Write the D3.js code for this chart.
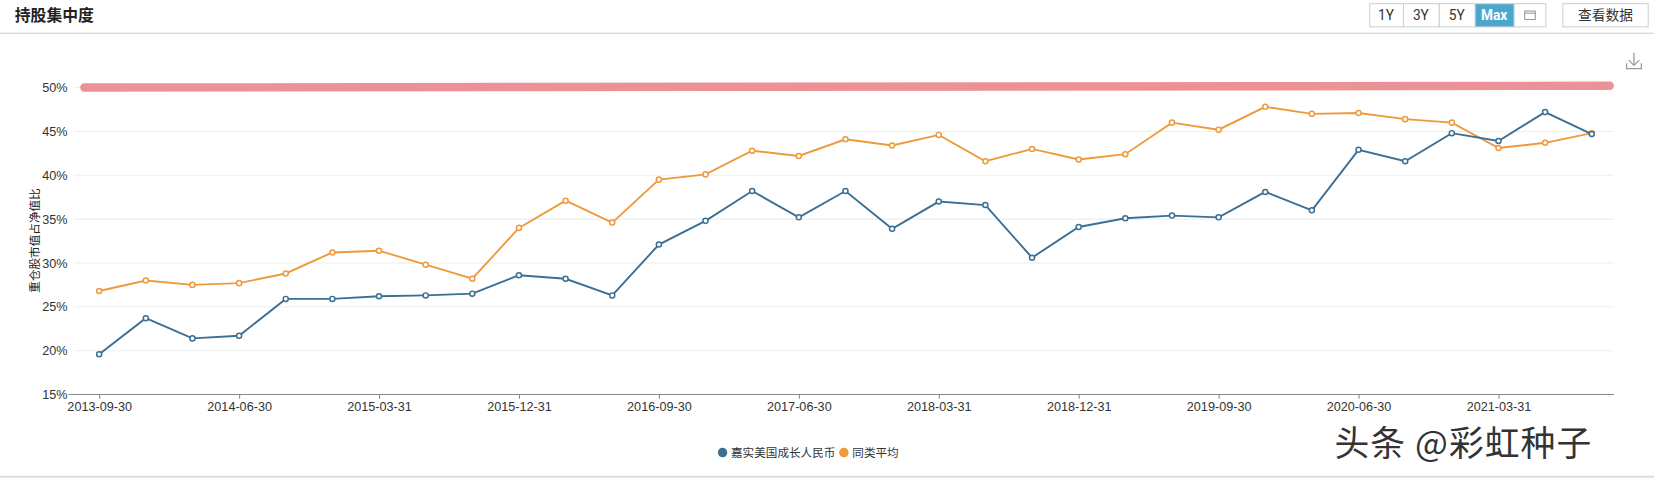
<!DOCTYPE html>
<html><head><meta charset="utf-8">
<script src="https://cdn.jsdelivr.net/npm/d3@7"></script>
<style>
body{margin:0;background:#fff;font-family:"Noto Sans CJK SC","Noto Sans",sans-serif;}
</style></head>
<body><div id="chart"></div>
<script>
// quarterly report dates
var dates = [];
(function(){ var q=["03-31","06-30","09-30","12-31"]; var y=2013,i=2;
  while(dates.length<33){ dates.push(y+"-"+q[i]); i++; if(i==4){i=0;y++;} } })();

var fundName = "嘉实美国成长人民币";
var fundValues = [19.6,23.7,21.4,21.7,25.9,25.9,26.2,26.3,26.5,28.6,28.2,26.3,32.1,34.8,38.2,35.2,38.2,33.9,37.0,36.6,30.6,34.1,35.1,35.4,35.2,38.1,36.0,42.9,41.6,44.8,43.9,47.2,44.7];
var avgName = "同类平均";
var avgValues = [26.8,28.0,27.5,27.7,28.8,31.2,31.4,29.8,28.2,34.0,37.1,34.6,39.5,40.1,42.8,42.2,44.1,43.4,44.6,41.6,43.0,41.8,42.4,46.0,45.2,47.8,47.0,47.1,46.4,46.0,43.1,43.7,44.8];
var yTicks = [15,20,25,30,35,40,45,50];
var xTickLabels = dates.filter(function(d,i){return i%3==0;});

var W=1654,H=479,S=W/1568;
var root=d3.select("#chart").append("svg").attr("width",W).attr("height",H);
var svg=root.append("g").attr("transform","scale("+S+")");

// header
svg.append("text").attr("x",14).attr("y",20).attr("font-size",15).attr("font-weight","bold").attr("fill","#222").text("持股集中度");
svg.append("line").attr("x1",0).attr("x2",W).attr("y1",31.5).attr("y2",31.5).attr("stroke","#ccc");
svg.append("line").attr("x1",0).attr("x2",W).attr("y1",452).attr("y2",452).attr("stroke","#ddd").attr("stroke-width",2);

var btns=[["1Y",1298,32],["3Y",1330,34],["5Y",1364,34],["Max",1398,37],["",1435,30]];
btns.forEach(function(b){
  var active=b[0]=="Max";
  svg.append("rect").attr("x",b[1]+0.5).attr("y",3.5).attr("width",b[2]).attr("height",22)
    .attr("fill",active?"#4aa8cf":"#fff").attr("stroke","#d0d0d0");
  svg.append("text").attr("x",b[1]+b[2]/2).attr("y",19).attr("text-anchor","middle")
    .attr("font-size",13).attr("font-family","Roboto,sans-serif").attr("font-weight",active?"bold":"normal")
    .attr("fill",active?"#fff":"#333").text(b[0]);
});
svg.append("rect").attr("x",1445.5).attr("y",10.5).attr("width",10).attr("height",8).attr("fill","none").attr("stroke","#999");
svg.append("line").attr("x1",1445.5).attr("x2",1455.5).attr("y1",12.5).attr("y2",12.5).attr("stroke","#999");
svg.append("rect").attr("x",1481.5).attr("y",3.5).attr("width",81).attr("height",22).attr("fill","#fff").attr("stroke","#d0d0d0");
svg.append("text").attr("x",1522).attr("y",19).attr("text-anchor","middle").attr("font-size",13).attr("fill","#333").text("查看数据");
// download icon
svg.append("path").attr("d","M1549 50 v12 M1544 57 l5 5 l5 -5 M1542 60 v5 h14 v-5").attr("fill","none").attr("stroke","#999").attr("stroke-width",1.2);

var x=d3.scalePoint().domain(dates).range([94,1509]);
var y=d3.scaleLinear().domain([15,50]).range([374,83]);
var g=svg.append("g");

// grid
g.selectAll(".grid").data(yTicks).enter().append("line")
  .attr("x1",70).attr("x2",1530).attr("y1",function(d){return y(d);}).attr("y2",function(d){return y(d);})
  .attr("stroke","#eee");

var yAxis=g.append("g").attr("transform","translate(70,0)")
  .call(d3.axisLeft(y).tickValues(yTicks).tickFormat(function(d){return d+"%";}).tickSize(0).tickPadding(6));
yAxis.select(".domain").remove();
yAxis.selectAll("text").attr("font-size",12).attr("fill","#333").attr("font-family","'Liberation Sans',sans-serif");

var xAxis=g.append("g").attr("transform","translate(0,374)")
  .call(d3.axisBottom(x).tickValues(xTickLabels).tickSize(4).tickPadding(3));
xAxis.select(".domain").attr("d","M65,0H1530").attr("stroke","#888");
xAxis.selectAll("line").attr("stroke","#888");
xAxis.selectAll("text").attr("font-size",12).attr("fill","#333").attr("font-family","'Liberation Sans',sans-serif");

svg.append("text").attr("transform","translate(37,228) rotate(-90)").attr("text-anchor","middle")
  .attr("font-size",11).attr("fill","#222").text("重仓股市值占净值比");

// 50% reference band
g.append("line").attr("x1",x(dates[0])-14).attr("x2",x(dates[32])+17)
  .attr("y1",y(50)).attr("y2",y(50.2)).attr("stroke","#ec9296").attr("stroke-width",8).attr("stroke-linecap","round");

var line=d3.line().x(function(d,i){return x(dates[i]);}).y(function(d){return y(d);});
var series=[[avgValues,"#ee9a3a"],[fundValues,"#3b6f94"]];
series.forEach(function(s){
  g.append("path").datum(s[0]).attr("d",line).attr("fill","none").attr("stroke",s[1]).attr("stroke-width",1.8);
  g.selectAll(null).data(s[0]).enter().append("circle")
    .attr("cx",function(d,i){return x(dates[i]);}).attr("cy",function(d){return y(d);})
    .attr("r",2.4).attr("fill","#fff").attr("stroke",s[1]).attr("stroke-width",1.4);
});

// legend
var leg=[[fundName,"#3b6f94",682],[avgName,"#ee9a3a",797]];
leg.forEach(function(l){
  svg.append("circle").attr("cx",l[2]+3).attr("cy",429).attr("r",4.5).attr("fill",l[1]);
  svg.append("text").attr("x",l[2]+11).attr("y",433).attr("font-size",11).attr("fill","#333").text(l[0]);
});

// watermark
svg.append("text").attr("x",1265).attr("y",432).attr("font-size",33).attr("fill","#333").attr("letter-spacing",1).text("头条 @彩虹种子");
</script></body></html>
